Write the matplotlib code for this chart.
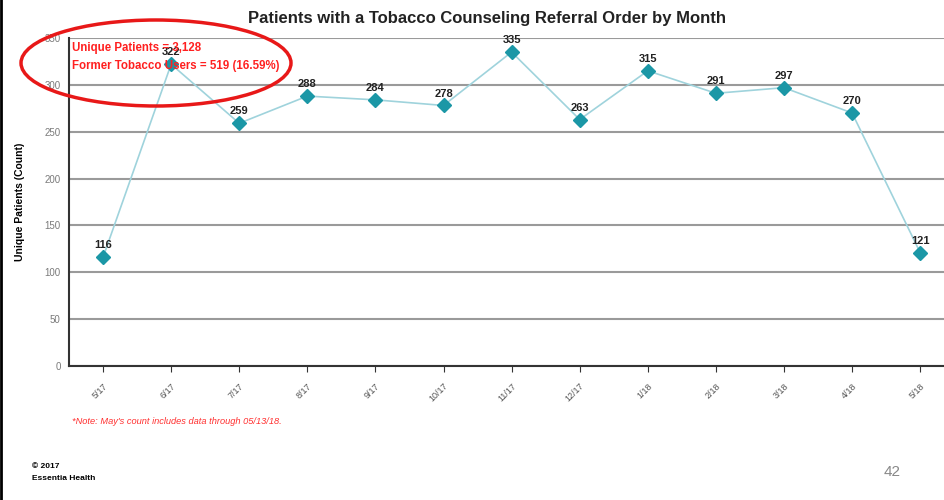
import matplotlib.pyplot as plt
from matplotlib.patches import Ellipse
from matplotlib.lines import Line2D

plt.rcParams['font.family'] = ['Liberation Sans', 'DejaVu Sans']

months = ['5/17', '6/17', '7/17', '8/17', '9/17', '10/17', '11/17', '12/17',
          '1/18', '2/18', '3/18', '4/18', '5/18']
counts = [116, 322, 259, 288, 284, 278, 335, 263, 315, 291, 297, 270, 121]
yticks = [0, 50, 100, 150, 200, 250, 300, 350]

fig = plt.figure(figsize=(9.44, 5), dpi=100)
ax = fig.add_axes([69/944, 0.268, 1 - 69/944, 0.656])

x = list(range(len(months)))
ax.plot(x, counts, color='#9fd3dc', lw=1.2, zorder=2)
ax.plot(x, counts, ls='none', marker='D', ms=7, color='#1b97a6', zorder=3)
for xi, v in zip(x, counts):
    ax.annotate(str(v), (xi, v), xytext=(0, 5), textcoords='offset points',
                ha='center', va='bottom', fontsize=8, fontweight='bold', color='#222222')

ax.set_xlim(-0.5, 12.35)
ax.set_ylim(0, 350)
ax.set_yticks(yticks)
ax.set_xticks(x)
ax.set_xticklabels(months, rotation=45, ha='right', rotation_mode='anchor',
                   fontsize=6.5, color='#555555')
ax.tick_params(axis='y', length=0, labelsize=7, colors='#7a7a7a', pad=6)
ax.tick_params(axis='x', length=4, color='#333333', pad=7)
ax.yaxis.grid(True, color='#9a9a9a', lw=1.5)
ax.set_axisbelow(True)
for s in ['top', 'right']:
    ax.spines[s].set_visible(False)
ax.spines['left'].set_color('#333333')
ax.spines['left'].set_linewidth(1.5)
ax.spines['bottom'].set_color('#333333')
ax.spines['bottom'].set_linewidth(1.5)

ax.set_ylabel('Unique Patients (Count)', fontsize=7.5, fontweight='bold', labelpad=14)

fig.text(487/944, 1 - 18/500, 'Patients with a Tobacco Counseling Referral Order by Month',
         ha='center', va='center', fontsize=12, fontweight='bold', color='#222222')

fig.text(72/944, 1 - 48/500, 'Unique Patients = 3,128', color='#ff2020',
         fontsize=8.3, fontweight='bold', va='center')
fig.text(72/944, 1 - 66/500, 'Former Tobacco Users = 519 (16.59%)', color='#ff2020',
         fontsize=8.3, fontweight='bold', va='center')
fig.add_artist(Ellipse((156/944, 1 - 63/500), 270/944, 86/500,
                       transform=fig.transFigure, fill=False, ec='#e81818', lw=2.5))

fig.text(72/944, 1 - 421/500, "*Note: May's count includes data through 05/13/18.",
         color='#ff3030', fontsize=6.7, style='italic', va='center')
fig.text(32/944, 1 - 467/500, '\u00a9 2017', fontsize=6, fontweight='bold', va='center')
fig.text(32/944, 1 - 479/500, 'Essentia Health', fontsize=6, fontweight='bold', va='center')
fig.text(892/944, 1 - 472/500, '42', fontsize=11, color='#888888', ha='center', va='center')

fig.add_artist(Line2D([1/944, 1/944], [0, 1], transform=fig.transFigure,
                      color='black', lw=2))

fig.savefig('out.png', dpi=100)
